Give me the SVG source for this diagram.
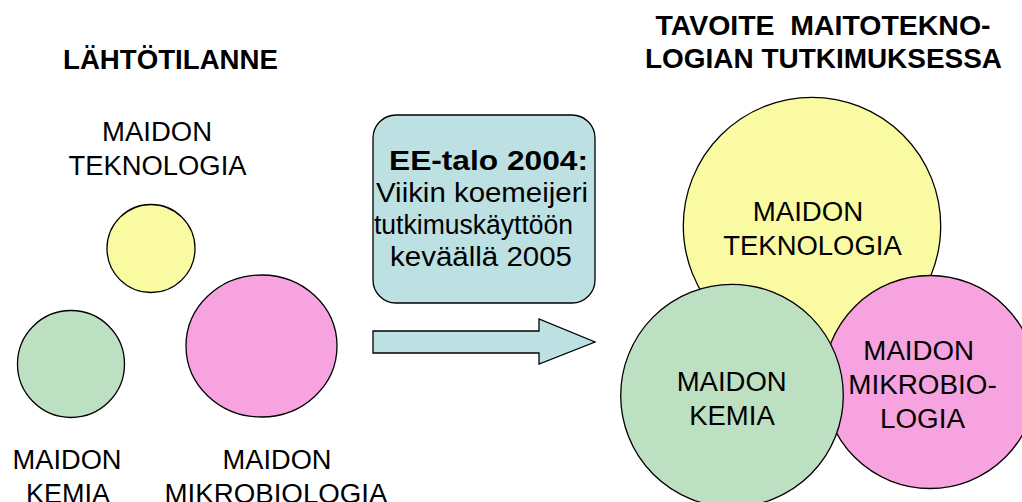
<svg xmlns="http://www.w3.org/2000/svg" width="1022" height="502" viewBox="0 0 1022 502">
<style>
text{font-family:"Liberation Sans",Arial,sans-serif;font-size:27px;fill:#000;text-anchor:middle;white-space:pre}
.b{font-weight:bold}
.c{stroke:#000;stroke-width:1.3}
.y{fill:#FAFAA2}
.g{fill:#BDE0C2}
.p{fill:#F6A3DF}
.t{fill:#BDE0E3;stroke:#000;stroke-width:1.3}
</style>
<rect width="1022" height="502" fill="#fff"/>
<g id="title-left"><text class="b" x="170.5" y="69" textLength="215" lengthAdjust="spacingAndGlyphs">LÄHTÖTILANNE</text></g>
<g id="title-right">
<text class="b" x="823" y="35" textLength="335" lengthAdjust="spacingAndGlyphs" xml:space="preserve">TAVOITE  MAITOTEKNO-</text>
<text class="b" x="823.5" y="68" textLength="357" lengthAdjust="spacingAndGlyphs">LOGIAN TUTKIMUKSESSA</text>
</g>
<g id="left-teknologia">
<circle class="c y" cx="151" cy="248.5" r="44"/>
<text x="157" y="141" textLength="110" lengthAdjust="spacingAndGlyphs">MAIDON</text>
<text x="157.5" y="175" textLength="178" lengthAdjust="spacingAndGlyphs">TEKNOLOGIA</text>
</g>
<g id="left-kemia">
<circle class="c g" cx="71" cy="364" r="53.5"/>
<text x="67" y="469" textLength="109" lengthAdjust="spacingAndGlyphs">MAIDON</text>
<text x="68" y="503" textLength="84" lengthAdjust="spacingAndGlyphs">KEMIA</text>
</g>
<g id="left-mikrobiologia">
<ellipse class="c p" cx="261.5" cy="346" rx="75.5" ry="71"/>
<text x="277" y="469" textLength="109" lengthAdjust="spacingAndGlyphs">MAIDON</text>
<text x="276" y="503" textLength="223" lengthAdjust="spacingAndGlyphs">MIKROBIOLOGIA</text>
</g>
<g id="ee-talo">
<rect class="t" x="373" y="115" width="222" height="188" rx="23"/>
<text class="b" x="488.5" y="170" textLength="199" lengthAdjust="spacingAndGlyphs">EE-talo 2004:</text>
<text x="482" y="202" textLength="212" lengthAdjust="spacingAndGlyphs">Viikin koemeijeri</text>
<text x="473.5" y="234" textLength="199" lengthAdjust="spacingAndGlyphs">tutkimuskäyttöön</text>
<text x="481" y="266" textLength="182" lengthAdjust="spacingAndGlyphs">keväällä 2005</text>
</g>
<g id="connectors">
<polygon class="t" points="373,331 539,331 539,319 595,342 539,364 539,353 373,353"/>
</g>
<g id="right-teknologia">
<circle class="c y" cx="812" cy="226" r="128.7"/>
<text x="808" y="221" textLength="110.6" lengthAdjust="spacingAndGlyphs">MAIDON</text>
<text x="812.5" y="255" textLength="178.4" lengthAdjust="spacingAndGlyphs">TEKNOLOGIA</text>
</g>
<g id="right-mikrobiologia">
<circle class="c p" cx="930" cy="382" r="106.5"/>
<text x="918.7" y="360" textLength="110.7" lengthAdjust="spacingAndGlyphs">MAIDON</text>
<text x="922.5" y="394" textLength="148.4" lengthAdjust="spacingAndGlyphs">MIKROBIO-</text>
<text x="922.5" y="428" textLength="85" lengthAdjust="spacingAndGlyphs">LOGIA</text>
</g>
<g id="right-kemia">
<circle class="c g" cx="732" cy="395.6" r="111.3"/>
<text x="731.7" y="391" textLength="110" lengthAdjust="spacingAndGlyphs">MAIDON</text>
<text x="732" y="425" textLength="85.7" lengthAdjust="spacingAndGlyphs">KEMIA</text>
</g>
</svg>
